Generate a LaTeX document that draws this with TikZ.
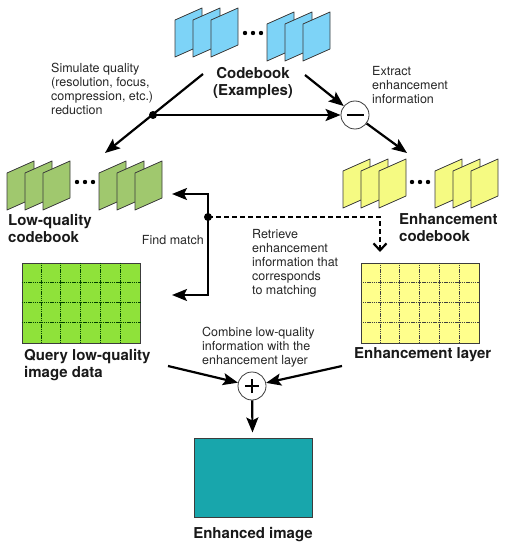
\documentclass[tikz,border=0pt]{standalone}
\usepackage{fontspec}
\setmainfont{TeX Gyre Heros}
\usetikzlibrary{arrows.meta, positioning}
\definecolor{codeblue}{RGB}{125,211,247}
\definecolor{lowgreen}{RGB}{160,200,110}
\definecolor{enhyellow}{RGB}{245,250,130}
\definecolor{querygreen}{RGB}{143,226,58}
\definecolor{layeryellow}{RGB}{255,255,140}
\definecolor{outteal}{RGB}{24,166,172}
\definecolor{edgegray}{RGB}{60,60,60}

\begin{document}
\begin{tikzpicture}[x=1pt, y=-1pt,
    sheet/.style={draw=edgegray, line width=0.8pt, line join=round},
    flow/.style={line width=2.2pt, -{Stealth[length=15pt, width=12pt, inset=3pt]}},
    heading/.style={font=\bfseries\fontsize{15}{17}\selectfont, text=black!90, align=left, inner sep=0pt},
    remark/.style={font=\fontsize{12.5}{14}\selectfont, text=black!85, align=left, inner sep=0pt},
    joint/.style={circle, fill, inner sep=0pt, minimum size=8pt},
    op/.style={circle, draw=edgegray, line width=0.8pt, fill=white, minimum size=28pt, inner sep=0pt},
    panel/.style={draw=edgegray, line width=1pt, minimum width=118pt, minimum height=80pt, inner sep=0pt},
    cellline/.style={line width=0.7pt, dash pattern=on 1.5pt off 0.7pt}]
    \useasboundingbox (0,0) rectangle (506,545);

    % Codebook (examples)
    \foreach \x in {175,193,211} \draw[sheet, fill=codeblue] (\x,57) -- ++(0,-37) -- ++(27,-12) -- ++(0,37) -- cycle;
    \foreach \x in {267,285,303} \draw[sheet, fill=codeblue] (\x,61) -- ++(0,-37) -- ++(27,-12) -- ++(0,37) -- cycle;
    \foreach \x in {245,253,261} \fill (\x,33) circle (2.2);
    \node[heading, align=center] (codebook) at (253,83) {Codebook\\(Examples)};

    % Low-quality codebook
    \foreach \x in {7,25,43,99,117,135} \draw[sheet, fill=lowgreen] (\x,210) -- ++(0,-37) -- ++(27,-12) -- ++(0,37) -- cycle;
    \foreach \x in {77,85,93} \fill (\x,182) circle (2.2);
    \node[heading, anchor=west] (lowlabel) at (8,228) {Low-quality\\codebook};

    % Enhancement codebook
    \foreach \x in {343,361,379,435,453,471} \draw[sheet, fill=enhyellow] (\x,208) -- ++(0,-37) -- ++(27,-12) -- ++(0,37) -- cycle;
    \foreach \x in {412,420,428} \fill (\x,182) circle (2.2);
    \node[heading, anchor=west] (enhlabel) at (399,228) {Enhancement\\codebook};

    % Simulate and extract
    \coordinate (simfrom) at (203,74);
    \coordinate (lowin) at (105,153);
    \coordinate (extfrom) at (305,75);
    \coordinate (enhin) at (407,153);
    \node[op] (minus) at (355,115) {};
    \draw[line width=1.3pt] ([xshift=-8.5pt]minus.center) -- ([xshift=8.5pt]minus.center);
    \draw[flow] (simfrom) -- (lowin);
    \node[joint] (split) at (153,115) {};
    \draw[flow] (split.center) -- (minus);
    \draw[flow] (extfrom) -- (minus);
    \draw[flow] (minus) -- (enhin);
    \node[remark, anchor=west] (simnote) at (51,89) {Simulate quality\\(resolution, focus,\\compression, etc.)\\reduction};
    \node[remark, anchor=west] (extnote) at (372,85) {Extract\\enhancement\\information};

    % Query image and enhancement layer
    \node[panel, fill=querygreen] (query) at (81,303) {};
    \foreach \i in {1,...,5} \draw[cellline, draw=green!25!black] ([xshift=\i*19.67pt]query.north west) -- ([xshift=\i*19.67pt]query.south west);
    \foreach \j in {1,2,3} \draw[cellline, draw=green!25!black] ([yshift=-\j*20pt]query.north west) -- ([yshift=-\j*20pt]query.north east);
    \node[heading, anchor=west] (querylabel) at (24,365) {Query low-quality\\image data};

    \node[panel, fill=layeryellow] (layer) at (420,303) {};
    \foreach \i in {1,...,5} \draw[cellline, draw=black!75] ([xshift=\i*19.67pt]layer.north west) -- ([xshift=\i*19.67pt]layer.south west);
    \foreach \j in {1,2,3} \draw[cellline, draw=black!75] ([yshift=-\j*20pt]layer.north west) -- ([yshift=-\j*20pt]layer.north east);
    \node[heading, anchor=west] (layerlabel) at (354,355) {Enhancement layer};

    % Find match and retrieve
    \coordinate (lowcb) at (172,194);
    \coordinate (queryin) at (172,295);
    \coordinate (layerin) at (380,252);
    \draw[flow] (208,217) |- (lowcb);
    \draw[flow] (208,217) |- (queryin);
    \node[joint] (match) at (208,217) {};
    \draw[line width=2.2pt, dash pattern=on 5pt off 3pt, -{Straight Barb[length=7pt, width=13pt]}] (match.center) -| (layerin);
    \node[remark, anchor=east] (findnote) at (204,240) {Find match};
    \node[remark, anchor=west] (retrnote) at (252,263) {Retrieve\\enhancement\\information that\\corresponds\\to matching};

    % Combine
    \node[op] (plus) at (252,386) {};
    \draw[line width=2.8pt] ([xshift=-7pt]plus.center) -- ([xshift=7pt]plus.center);
    \draw[line width=2.8pt] ([yshift=-7pt]plus.center) -- ([yshift=7pt]plus.center);
    \coordinate (queryout) at (168,366);
    \coordinate (layerout) at (342,366);
    \draw[flow] (queryout) -- (plus);
    \draw[flow] (layerout) -- (plus);
    \node[remark, anchor=west] (combnote) at (202,347) {Combine low-quality\\information with the\\enhancement layer};

    % Enhanced image
    \node[draw=edgegray, line width=1pt, fill=outteal, minimum width=118pt, minimum height=79pt, inner sep=0pt] (result) at (253,477.5) {};
    \draw[flow, shorten >=5pt] (plus) -- (result);
    \node[heading] (resultlabel) at (253,535) {Enhanced image};
\end{tikzpicture}
\end{document}
